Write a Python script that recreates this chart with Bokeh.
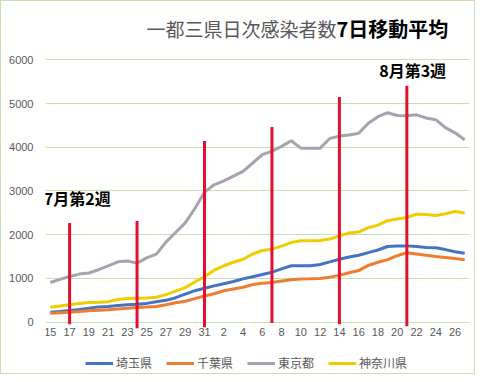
from bokeh.plotting import figure
from bokeh.models import ColumnDataSource, Legend, LegendItem, Label, FixedTicker, Range1d
from bokeh.embed import file_html
from bokeh.resources import INLINE

# ---- data ----
day_labels = ["15", "16", "17", "18", "19", "20", "21", "22", "23", "24", "25", "26", "27",
              "28", "29", "30", "31", "1", "2", "3", "4", "5", "6", "7", "8", "9", "10",
              "11", "12", "13", "14", "15", "16", "17", "18", "19", "20", "21", "22", "23",
              "24", "25", "26", "27"]

saitama = [229, 245, 265, 290, 320, 350, 360, 380, 400, 412, 430, 465, 500, 560, 640,
           720, 775, 830, 880, 930, 990, 1040, 1090, 1143, 1220, 1290, 1290, 1290, 1320,
           1380, 1440, 1490, 1530, 1590, 1650, 1730, 1740, 1745, 1730, 1710, 1700, 1660,
           1610, 1578]
chiba = [206, 215, 229, 245, 260, 275, 284, 300, 320, 336, 345, 360, 400, 445, 480, 540,
         600, 650, 720, 760, 800, 860, 890, 910, 940, 970, 985, 992, 1000, 1030, 1070,
         1130, 1180, 1300, 1370, 1430, 1520, 1590, 1560, 1530, 1500, 1480, 1455, 1427]
tokyo = [908, 980, 1045, 1100, 1125, 1200, 1290, 1380, 1400, 1350, 1470, 1555, 1830,
         2050, 2270, 2600, 2973, 3142, 3230, 3340, 3450, 3640, 3830, 3910, 4020, 4148,
         3979, 3975, 3979, 4200, 4255, 4280, 4320, 4550, 4700, 4790, 4725, 4720, 4742,
         4670, 4630, 4450, 4330, 4171]
kanagawa = [340, 370, 398, 430, 450, 455, 470, 520, 540, 549, 555, 570, 630, 710, 790,
            920, 1040, 1190, 1290, 1370, 1440, 1560, 1640, 1670, 1740, 1820, 1860, 1865,
            1868, 1900, 1975, 2040, 2060, 2160, 2220, 2320, 2360, 2394, 2470, 2460, 2440,
            2480, 2530, 2495]

series_names = ["埼玉県", "千葉県", "東京都", "神奈川県"]
series_colors = ["#4472C4", "#ED7D31", "#A8A2AE", "#F0CC00"]

# weekly marker lines (index of day, top and bottom value)
mark_idx = [2, 9, 16, 23, 30, 37]
mark_top = [2267, 2313, 4145, 4465, 5152, 5404]
mark_bottom = [-46, -137, -115, -16, -46, -92]

y_ticks = [0, 1000, 2000, 3000, 4000, 5000, 6000]
x_tick_idx = list(range(0, len(day_labels), 2))

title_gray = "一都三県日次感染者数"
title_black = "7日移動平均"
note_left = "7月第2週"
note_right = "8月第3週"

# ---- figure ----
idx = list(range(len(day_labels)))
p = figure(width=475, height=374, output_backend="svg", toolbar_location=None,
           x_range=Range1d(-0.5, len(day_labels) - 0.5), y_range=Range1d(-1219, 7333),
           min_border_left=44, min_border_right=7, min_border_top=0, min_border_bottom=0)
p.outline_line_color = None
p.background_fill_color = "white"
p.border_fill_color = "white"
p.styles = {"border": "1px solid #C5E0B4"}

p.xgrid.grid_line_color = None
p.ygrid.grid_line_color = "#C5E0B4"
p.ygrid.grid_line_width = 1
p.yaxis.ticker = FixedTicker(ticks=y_ticks)
p.xaxis.ticker = FixedTicker(ticks=x_tick_idx)
p.xaxis.major_label_overrides = {i: day_labels[i] for i in x_tick_idx}
p.xaxis.fixed_location = 0
for ax in (p.xaxis, p.yaxis):
    ax.axis_line_color = None
    ax.major_tick_line_color = None
    ax.minor_tick_line_color = None
    ax.major_tick_in = 0
    ax.major_tick_out = 0
    ax.major_label_text_color = "#595959"
    ax.major_label_text_font = "Liberation Sans"
    ax.major_label_text_font_size = "11px"
p.yaxis.major_label_standoff = 12
p.xaxis.major_label_standoff = 6

renderers = []
for vals, color in zip([saitama, chiba, tokyo, kanagawa], series_colors):
    src = ColumnDataSource(dict(x=idx, y=vals))
    r = p.line("x", "y", source=src, line_color=color, line_width=3)
    renderers.append(r)

msrc = ColumnDataSource(dict(x=mark_idx, y0=mark_bottom, y1=mark_top))
p.segment(x0="x", y0="y0", x1="x", y1="y1", source=msrc, line_color="#E2102E", line_width=3)

legend = Legend(items=[LegendItem(label=n, renderers=[r]) for n, r in zip(series_names, renderers)],
                orientation="horizontal", location=(40, 4), padding=4, spacing=14,
                glyph_width=28, glyph_height=16, label_standoff=3,
                label_text_font="Noto Sans CJK JP", label_text_font_size="12px",
                label_text_color="#595959", border_line_color=None, background_fill_alpha=0)
p.add_layout(legend)

p.add_layout(Label(x=29.7, y=6716, text=title_gray, text_align="right", text_baseline="middle",
                   text_font="Noto Sans CJK JP", text_font_size="19px", text_color="#595959"))
p.add_layout(Label(x=29.7, y=6716, text=title_black, text_align="left", text_baseline="middle",
                   text_font="Noto Sans CJK JP", text_font_size="20px", text_color="black",
                   text_font_style="bold"))
p.add_layout(Label(x=mark_idx[0] + 0.8, y=2851, text=note_left, text_align="center",
                   text_baseline="middle", text_font="Noto Sans CJK JP", text_font_size="16px",
                   text_font_style="bold", text_color="black"))
p.add_layout(Label(x=mark_idx[5] + 0.6, y=5756, text=note_right, text_align="center",
                   text_baseline="middle", text_font="Noto Sans CJK JP", text_font_size="16px",
                   text_font_style="bold", text_color="black"))

open("out.html", "w").write(file_html(p, INLINE))
